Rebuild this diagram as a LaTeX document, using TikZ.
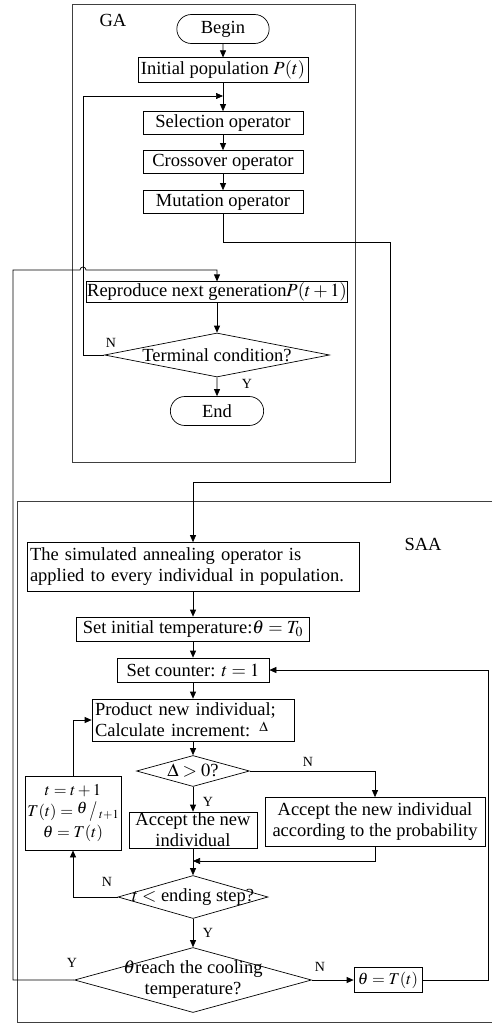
\documentclass[tikz,border=0pt]{standalone}
\usepackage{graphicx}
\usepackage{mathptmx}
\usepackage[no-math]{fontspec}
\setmainfont{Liberation Serif}
\usetikzlibrary{shapes.geometric,shapes.misc,arrows.meta}
\begin{document}
\begin{tikzpicture}[x=1pt,y=-1pt,
  font=\fontsize{18.5}{21}\selectfont,
  line width=0.7pt,
  >={Triangle[length=7pt,width=6pt]},
  proc/.style={draw,rectangle,inner sep=3pt,minimum height=23},
  term/.style={draw,rounded rectangle,minimum width=99,minimum height=29},
  decide/.style={draw,diamond,inner sep=0pt},
  yn/.style={font=\fontsize{14}{14}\selectfont},
  frame/.style={draw=black!75,line width=0.9pt}]
\useasboundingbox (0,0) rectangle (492,1024);
% GA part
\draw[frame] (72,4) rectangle (355,462);
\node (galbl) at (113,20) {GA};
\node[term] (begin) at (223,29) {Begin};
\node[proc,minimum width=168] (init) at (223,70) {Initial population $P(t)$};
\node[proc,minimum width=160] (sel) at (223,123) {Selection operator};
\node[proc,minimum width=160] (cross) at (223,162) {Crossover operator};
\node[proc,minimum width=160] (mut) at (223,202) {Mutation operator};
\node[proc,inner sep=1pt,minimum height=20,minimum width=256] (repro) at (217,292) {Reproduce next generation$P(t+1)$};
\node[decide,minimum width=225,minimum height=44,label=center:{Terminal condition?}] (termc) at (217,355) {};
\node[term,minimum width=100] (end) at (217,411) {End};
\node[yn] (termn) at (111,343) {N};
\node[yn] (termy) at (247,384) {Y};
\coordinate (gajoin) at (223,96);
\draw[->] (begin) -- (init);
\draw[->] (init) -- (sel);
\draw[->] (sel) -- (cross);
\draw[->] (cross) -- (mut);
\draw[->] (termc.west) -- (83,355) |- (gajoin);
\draw[->] (repro) -- (termc);
\draw[->] (termc) -- (end);
% SAA part
\draw[frame] (492,501) -- (17,501) -- (17,1022) -- (492,1022);
\node (saalbl) at (423,544) {SAA};
\node[proc,text width=326,align=left,minimum height=49] (sim) at (193,567) {The simulated annealing operator is\\applied to every individual in population.};
\node[proc,minimum width=233,minimum height=24] (itemp) at (193,629) {Set initial temperature:$\theta=T_0$};
\node[proc,minimum width=152,minimum height=24] (counter) at (193,670) {Set counter: $t=1$};
\node[proc,text width=196,align=left,minimum height=42] (prod) at (193,720) {Product new individual;\\Calculate increment: \raisebox{5pt}{\fontsize{14}{14}\selectfont$\Delta$}};
\node[decide,minimum width=113,minimum height=31,label=center:{$\Delta>0$?}] (pos) at (193,771) {};
\node[proc,inner sep=1pt,align=center,minimum width=128,minimum height=34] (accnew) at (193,830) {Accept the new\\individual};
\node[proc,inner sep=1pt,align=center,minimum width=220,minimum height=49] (accprob) at (375,822) {Accept the new individual\\according to the probability};
\node[proc,inner sep=1pt,align=center,minimum width=96,minimum height=74,font=\fontsize{16.5}{21}\selectfont] (upd) at (73,813) {$t=t+1$\\$T(t)=\raisebox{3pt}{$\theta$}\mkern2mu\scalebox{1}[1.2]{$/$}\mkern2mu\raisebox{-2pt}{$\scriptstyle t+1$}$\\$\theta=T(t)$};
\node[decide,minimum width=150,minimum height=43,label=center:{$t<$ ending step?}] (tstep) at (193,897) {};
\node[decide,minimum width=237,minimum height=65,label={[align=center]center:{$\theta$reach the cooling\\temperature?}}] (cool) at (193,980) {};
\node[proc,minimum width=68,minimum height=25,font=\fontsize{16.5}{19}\selectfont] (newt) at (388,980) {$\theta=T(t)$};
\node[yn] (posn) at (308,762) {N};
\node[yn] (posy) at (208,802) {Y};
\node[yn] (stepn) at (107,882) {N};
\node[yn] (stepy) at (208,933) {Y};
\node[yn] (cooly) at (72,963) {Y};
\node[yn] (cooln) at (320,967) {N};
\coordinate (saain) at (193,482);
\coordinate (merge) at (193,861);
\draw[->] (mut.south) |- (390,242) |- (saain) -- (sim.north);
\draw[->] (sim) -- (itemp);
\draw[->] (itemp) -- (counter);
\draw[->] (counter) -- (prod);
\draw[->] (prod) -- (pos);
\draw[->] (pos.east) -| (accprob.north);
\draw[->] (pos) -- (accnew);
\draw[->] (accnew) -- (tstep);
\draw[->] (accprob.south) |- (merge);
\draw[->] (tstep.west) -| (upd.south);
\draw[->] (upd.north) |- (prod.west);
\draw[->] (tstep) -- (cool);
\draw[->] (cool) -- (newt);
\draw[->] (newt.east) -- (488,980) |- (counter.east);
\draw[->] (cool.west) -| (13,270) -- (80,270) arc[start angle=180,end angle=360,radius=3] -| (repro.north);
\end{tikzpicture}
\end{document}
